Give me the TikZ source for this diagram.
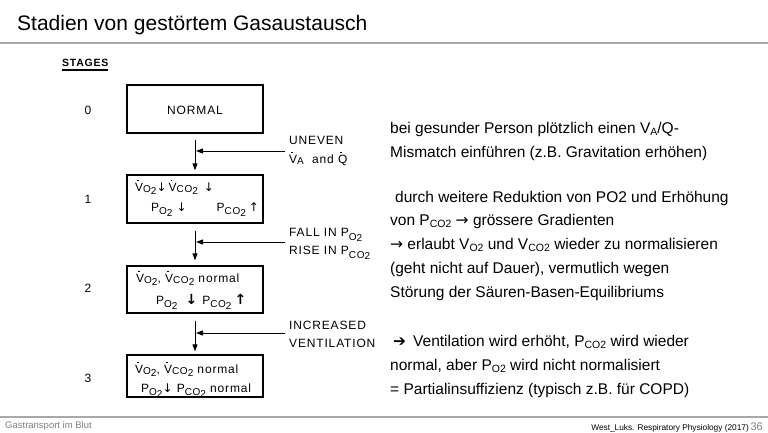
\documentclass[tikz,border=0pt]{standalone}
\usepackage{fontspec}
\setmainfont{Liberation Sans}
\newfontfamily\dfont{Liberation Sans}[LetterSpace=7]
\newfontfamily\symf{DejaVu Sans}
\usetikzlibrary{arrows.meta}
\definecolor{rulegray}{HTML}{A8A8A8}
\definecolor{footgray}{HTML}{7F7F7F}
\newcommand\dsub[1]{\raisebox{-0.25ex}{\fontsize{10}{10}\selectfont #1}}
\newcommand\psub[1]{\raisebox{-0.6ex}{\fontsize{10}{10}\selectfont #1}}
\newcommand\otwo{\dsub{O\raisebox{-0.3ex}{2}}}
\newcommand\cotwo{\dsub{CO\raisebox{-0.3ex}{2}}}
\newcommand\potwo{\psub{O\raisebox{-0.3ex}{2}}}
\newcommand\pcotwo{\psub{CO\raisebox{-0.3ex}{2}}}
\newcommand\dotted[1]{\makebox[0pt][l]{\hspace{2.2pt}\raisebox{10pt}{\rule{1.5pt}{1.5pt}}}#1}
\newcommand\ardn{{\symf\fontsize{12}{12}\selectfont ↓}}
\newcommand\arup{{\symf\fontsize{12}{12}\selectfont ↑}}
\newcommand\bardn{{\symf\bfseries\fontsize{14}{14}\selectfont ↓}}
\newcommand\barup{{\symf\bfseries\fontsize{14}{14}\selectfont ↑}}
\newcommand\rsub[1]{\raisebox{-0.35ex}{\fontsize{10.5}{10.5}\selectfont #1}}
\begin{document}
\begin{tikzpicture}[x=1pt,y=-1pt,
  box/.style={draw, line width=1.3pt, minimum width=136pt, inner sep=0pt},
  flow/.style={-{Triangle[length=7pt,width=5pt]}, line width=1pt},
  dtext/.style={font=\dfont\fontsize{12}{18}\selectfont, inner sep=0pt},
  lbl/.style={dtext, anchor=west, align=left},
  bline/.style={dtext, anchor=base west},
  rtext/.style={font=\fontsize{15.5}{18}\selectfont, anchor=base west, inner sep=0pt},
  ftext/.style={inner sep=0pt, anchor=base west}]
\useasboundingbox (0,0) rectangle (768,432);
% title and rules
\node[ftext, font=\fontsize{21}{24}\selectfont] (title) at (17,30) {Stadien von gestörtem Gasaustausch};
\draw[rulegray, line width=2.2pt] (0,43) -- (768,43);
\draw[rulegray, line width=2.2pt] (0,417) -- (768,417);
\node[ftext, font=\fontsize{9.5}{11}\selectfont, text=footgray] (foot1) at (5,428) {Gastransport im Blut};
\node[inner sep=0pt, anchor=base east, font=\fontsize{11}{12}\selectfont, text=footgray] (pg) at (763,430) {36};
\node[inner sep=0pt, anchor=base east, font=\fontsize{8.3}{10}\selectfont] (src) at (pg.base west) {West\_Luks. Respiratory Physiology (2017)\,};
% stages
\node[dtext, anchor=base west, font=\dfont\bfseries\fontsize{10.5}{12}\selectfont] (stg) at (62,66) {STAGES};
\draw[line width=1.2pt] ([yshift=-4pt]stg.base west) -- ([yshift=-4pt]stg.base east);
\node[dtext] (s0) at (88,110) {0};
\node[dtext] (s1) at (88,199) {1};
\node[dtext] (s2) at (88,288) {2};
\node[dtext] (s3) at (88,378) {3};
% boxes
\node[box, minimum height=48pt] (b0) at (195,109) {};
\node[dtext] (t0) at (195,110) {NORMAL};
\node[box, minimum height=48pt] (b1) at (195,199) {};
\node[box, minimum height=47pt] (b2) at (195,289.5) {};
\node[box, minimum height=42pt] (b3) at (195,376) {};
% box contents
\node[bline] (t1a) at (135,191) {\dotted{V}\otwo\ardn\hspace{2pt}\dotted{V}\cotwo\hspace{6pt}\ardn};
\node[bline] (t1b) at (151,211) {P\potwo\hspace{4pt}\ardn\hspace{30pt}P\pcotwo\hspace{3pt}\arup};
\node[bline] (t2a) at (136,282) {\dotted{V}\otwo, \dotted{V}\cotwo\ normal};
\node[bline] (t2b) at (156,304) {P\potwo\hspace{8pt}\bardn\hspace{5pt}P\pcotwo\hspace{3pt}\barup};
\node[bline] (t3a) at (135,373) {\dotted{V}\otwo, \dotted{V}\cotwo\ normal};
\node[bline] (t3b) at (141,392) {P\potwo\ardn\ P\pcotwo\ normal};
% vertical flow arrows
\draw[flow, shorten <=6pt, shorten >=4pt] (b0) -- (b1);
\draw[flow, shorten <=7pt, shorten >=5pt] (b1) -- (b2);
\draw[flow, shorten <=7pt, shorten >=3pt] (b2) -- (b3);
% side inputs
\coordinate (j1) at (196,151); \coordinate (e1) at (285,151);
\coordinate (j2) at (196,242); \coordinate (e2) at (285,242);
\coordinate (j3) at (196,333); \coordinate (e3) at (285,333);
\draw[flow] (e1) -- (j1);
\draw[flow] (e2) -- (j2);
\draw[flow] (e3) -- (j3);
\node[lbl] (l1) at (289,151) {UNEVEN\\\dotted{V}\dsub{A}\ \ and \dotted{Q}};
\node[lbl] (l2) at (289,244) {FALL IN P\potwo\\RISE IN P\pcotwo};
\node[lbl] (l3) at (289,334) {INCREASED\\VENTILATION};
% right-hand text
\node[rtext] (r1) at (390,133) {bei gesunder Person plötzlich einen V\rsub{A}/Q-};
\node[rtext] (r2) at (390,157) {Mismatch einführen (z.B. Gravitation erhöhen)};
\node[rtext] (r3) at (395,202) {durch weitere Reduktion von PO2 und Erhöhung};
\node[rtext] (r4) at (390,225) {von P\rsub{CO2} {\symf→} grössere Gradienten};
\node[rtext] (r5) at (390,249) {{\symf→} erlaubt V\rsub{O2} und V\rsub{CO2} wieder zu normalisieren};
\node[rtext] (r6) at (390,273) {(geht nicht auf Dauer), vermutlich wegen};
\node[rtext] (r7) at (390,297) {Störung der Säuren-Basen-Equilibriums};
\node[rtext] (r8) at (393,346) {{\symf\bfseries ➔}\hspace{7pt}Ventilation wird erhöht, P\rsub{CO2} wird wieder};
\node[rtext] (r9) at (390,370) {normal, aber P\rsub{O2} wird nicht normalisiert};
\node[rtext] (r10) at (390,394) {= Partialinsuffizienz (typisch z.B. für COPD)};
\end{tikzpicture}
\end{document}
